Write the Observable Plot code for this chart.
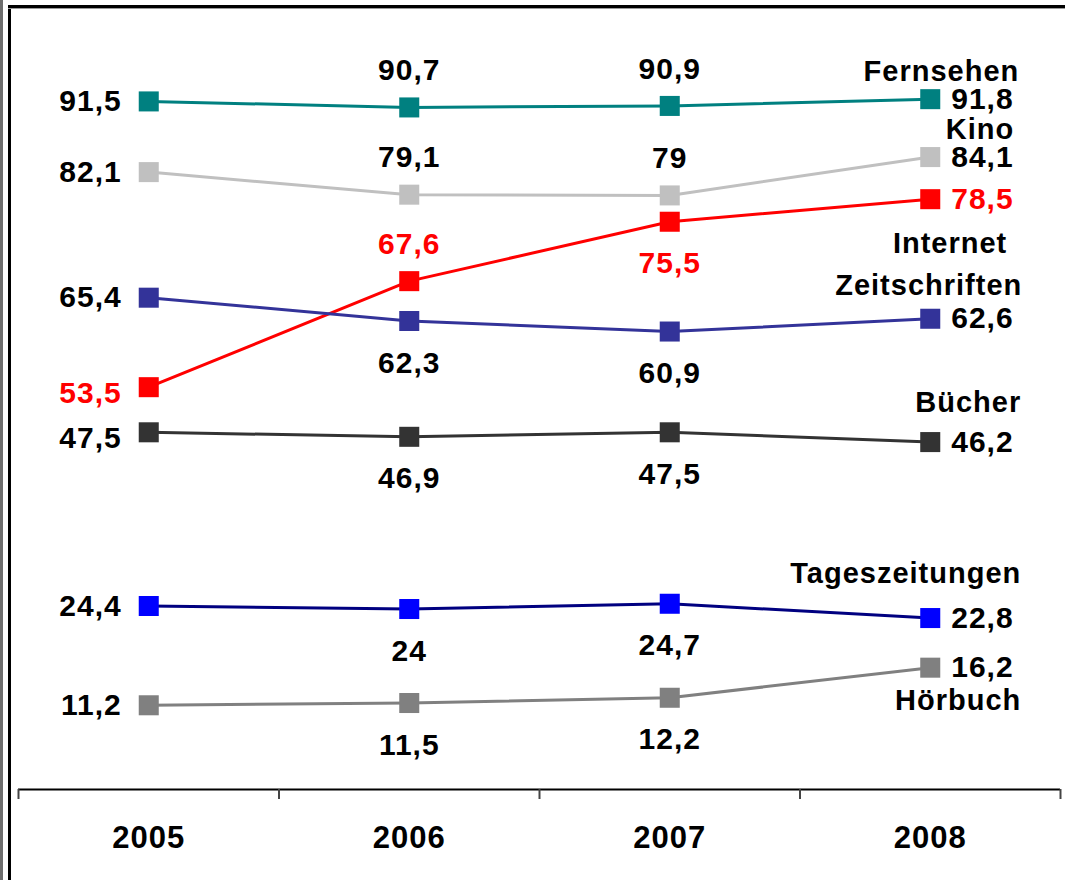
<!DOCTYPE html>
<html>
<head>
<meta charset="utf-8">
<script src="https://cdn.jsdelivr.net/npm/d3@7"></script>
<script src="https://cdn.jsdelivr.net/npm/@observablehq/plot@0.6"></script>
<style>
  html, body { margin: 0; padding: 0; background: #fff; }
  #wrap { position: relative; width: 1065px; height: 880px; overflow: hidden; }
  #wrap svg { position: absolute; left: 0; top: 0; }
  .b { position: absolute; z-index: 2; }
</style>
</head>
<body>
<div id="wrap">
  <div class="b" style="left:0;top:0;width:3px;height:880px;background:#6e6e6e"></div>
  <div class="b" style="left:8px;top:6px;width:3px;height:874px;background:#000"></div>
  <div class="b" style="left:8px;top:5px;width:1057px;height:3px;background:#000"></div>
  <div class="b" style="left:8px;top:8px;width:1057px;height:1px;background:#999"></div>
</div>
<script>
// ---- data ----
const years = [2005, 2006, 2007, 2008];
const seriesNames = ["Fernsehen", "Kino", "Internet", "Zeitschriften", "Bücher", "Tageszeitungen", "Hörbuch"];
const fernsehen = [91.5, 90.7, 90.9, 91.8];
const kino = [82.1, 79.1, 79, 84.1];
const internet = [53.5, 67.6, 75.5, 78.5];
const zeitschriften = [65.4, 62.3, 60.9, 62.6];
const buecher = [47.5, 46.9, 47.5, 46.2];
const tageszeitungen = [24.4, 24, 24.7, 22.8];
const hoerbuch = [11.2, 11.5, 12.2, 16.2];
const seriesValues = [fernsehen, kino, internet, zeitschriften, buecher, tageszeitungen, hoerbuch];

// ---- styles / layout ----
const lineColor = {Fernsehen: "#008080", Kino: "#C0C0C0", Internet: "#FF0000", Zeitschriften: "#333399", "Bücher": "#333333", Tageszeitungen: "#000080", "Hörbuch": "#808080"};
const markColor = {Fernsehen: "#008080", Kino: "#C0C0C0", Internet: "#FF0000", Zeitschriften: "#333399", "Bücher": "#333333", Tageszeitungen: "#0000FF", "Hörbuch": "#808080"};
const textColor = {Internet: "#FF0000"};
const midPlacement = {Fernsehen: ["above", "above"], Kino: ["above", "above"], Internet: ["above", "below"], Zeitschriften: ["below", "below"], "Bücher": ["below", "below"], Tageszeitungen: ["below", "below"], "Hörbuch": ["below", "below"]};
const firstDy = {Internet: 6, "Bücher": 6};
const nameDy = {Fernsehen: -27, Kino: -27, Internet: 45, Zeitschriften: -33, "Bücher": -39, Tageszeitungen: -44, "Hörbuch": 33};
const nameDx = {Fernsehen: 89, Kino: 84, Internet: 77, Zeitschriften: 92, "Bücher": 91, Tageszeitungen: 91, "Hörbuch": 91};

const rows = [];
seriesNames.forEach((s, i) => {
  years.forEach((yr, j) => rows.push({series: s, year: yr, value: seriesValues[i][j], idx: j}));
});
const fmt = v => String(v).replace(".", ",");
const boundaries = [years[0] - 0.5, ...years.map(y => y + 0.5)];

const font = {fontFamily: "'Liberation Sans', Arial, sans-serif", fontWeight: "bold", fontSize: 30};
const ls = "1px";

const marks = [
  Plot.ruleY([0], {stroke: "#000", strokeWidth: 2}),
  Plot.axisX({ticks: boundaries, tickSize: 10, tickFormat: () => "", label: null, stroke: "#444", strokeWidth: 2}),
  Plot.text(years, {x: d => d, text: d => String(d), frameAnchor: "bottom", dy: 49, lineAnchor: "middle", fill: "#000", ...font, fontSize: 31})
];

seriesNames.forEach(s => {
  const d = rows.filter(r => r.series === s);
  marks.push(Plot.lineY(d, {x: "year", y: "value", stroke: lineColor[s], strokeWidth: 3}));
});
seriesNames.forEach(s => {
  const d = rows.filter(r => r.series === s);
  const tc = textColor[s] || "#000";
  marks.push(Plot.dot(d, {x: "year", y: "value", symbol: "square", r: 11.3, fill: markColor[s], stroke: "none"}));
  // first year: left of marker
  marks.push(Plot.text(d.filter(r => r.idx === 0), {x: "year", y: "value", text: r => fmt(r.value), textAnchor: "end", dx: -27, dy: firstDy[s] || 0, fill: tc, ...font}));
  // middle years
  [1, 2].forEach(k => {
    const above = midPlacement[s][k - 1] === "above";
    marks.push(Plot.text(d.filter(r => r.idx === k), {x: "year", y: "value", text: r => fmt(r.value), dy: above ? -37 : 42, fill: tc, ...font}));
  });
  // last year: right of marker
  marks.push(Plot.text(d.filter(r => r.idx === 3), {x: "year", y: "value", text: r => fmt(r.value), textAnchor: "start", dx: 21, fill: tc, ...font}));
  // series name
  marks.push(Plot.text(d.filter(r => r.idx === 3), {x: "year", y: "value", text: r => r.series, textAnchor: "end", dx: nameDx[s], dy: nameDy[s], fill: "#000", ...font, fontSize: 29}));
});

const chart = Plot.plot({
  width: 1065,
  height: 880,
  marginTop: 37,
  marginBottom: 91,
  marginLeft: 18,
  marginRight: 5,
  x: {type: "linear", domain: [boundaries[0], boundaries[boundaries.length - 1]], axis: null},
  y: {domain: [0, 100], axis: null},
  style: {background: "transparent", overflow: "visible"},
  marks
});
chart.querySelectorAll("text").forEach(t => t.style.letterSpacing = ls);
document.getElementById("wrap").appendChild(chart);
</script>
</body>
</html>
